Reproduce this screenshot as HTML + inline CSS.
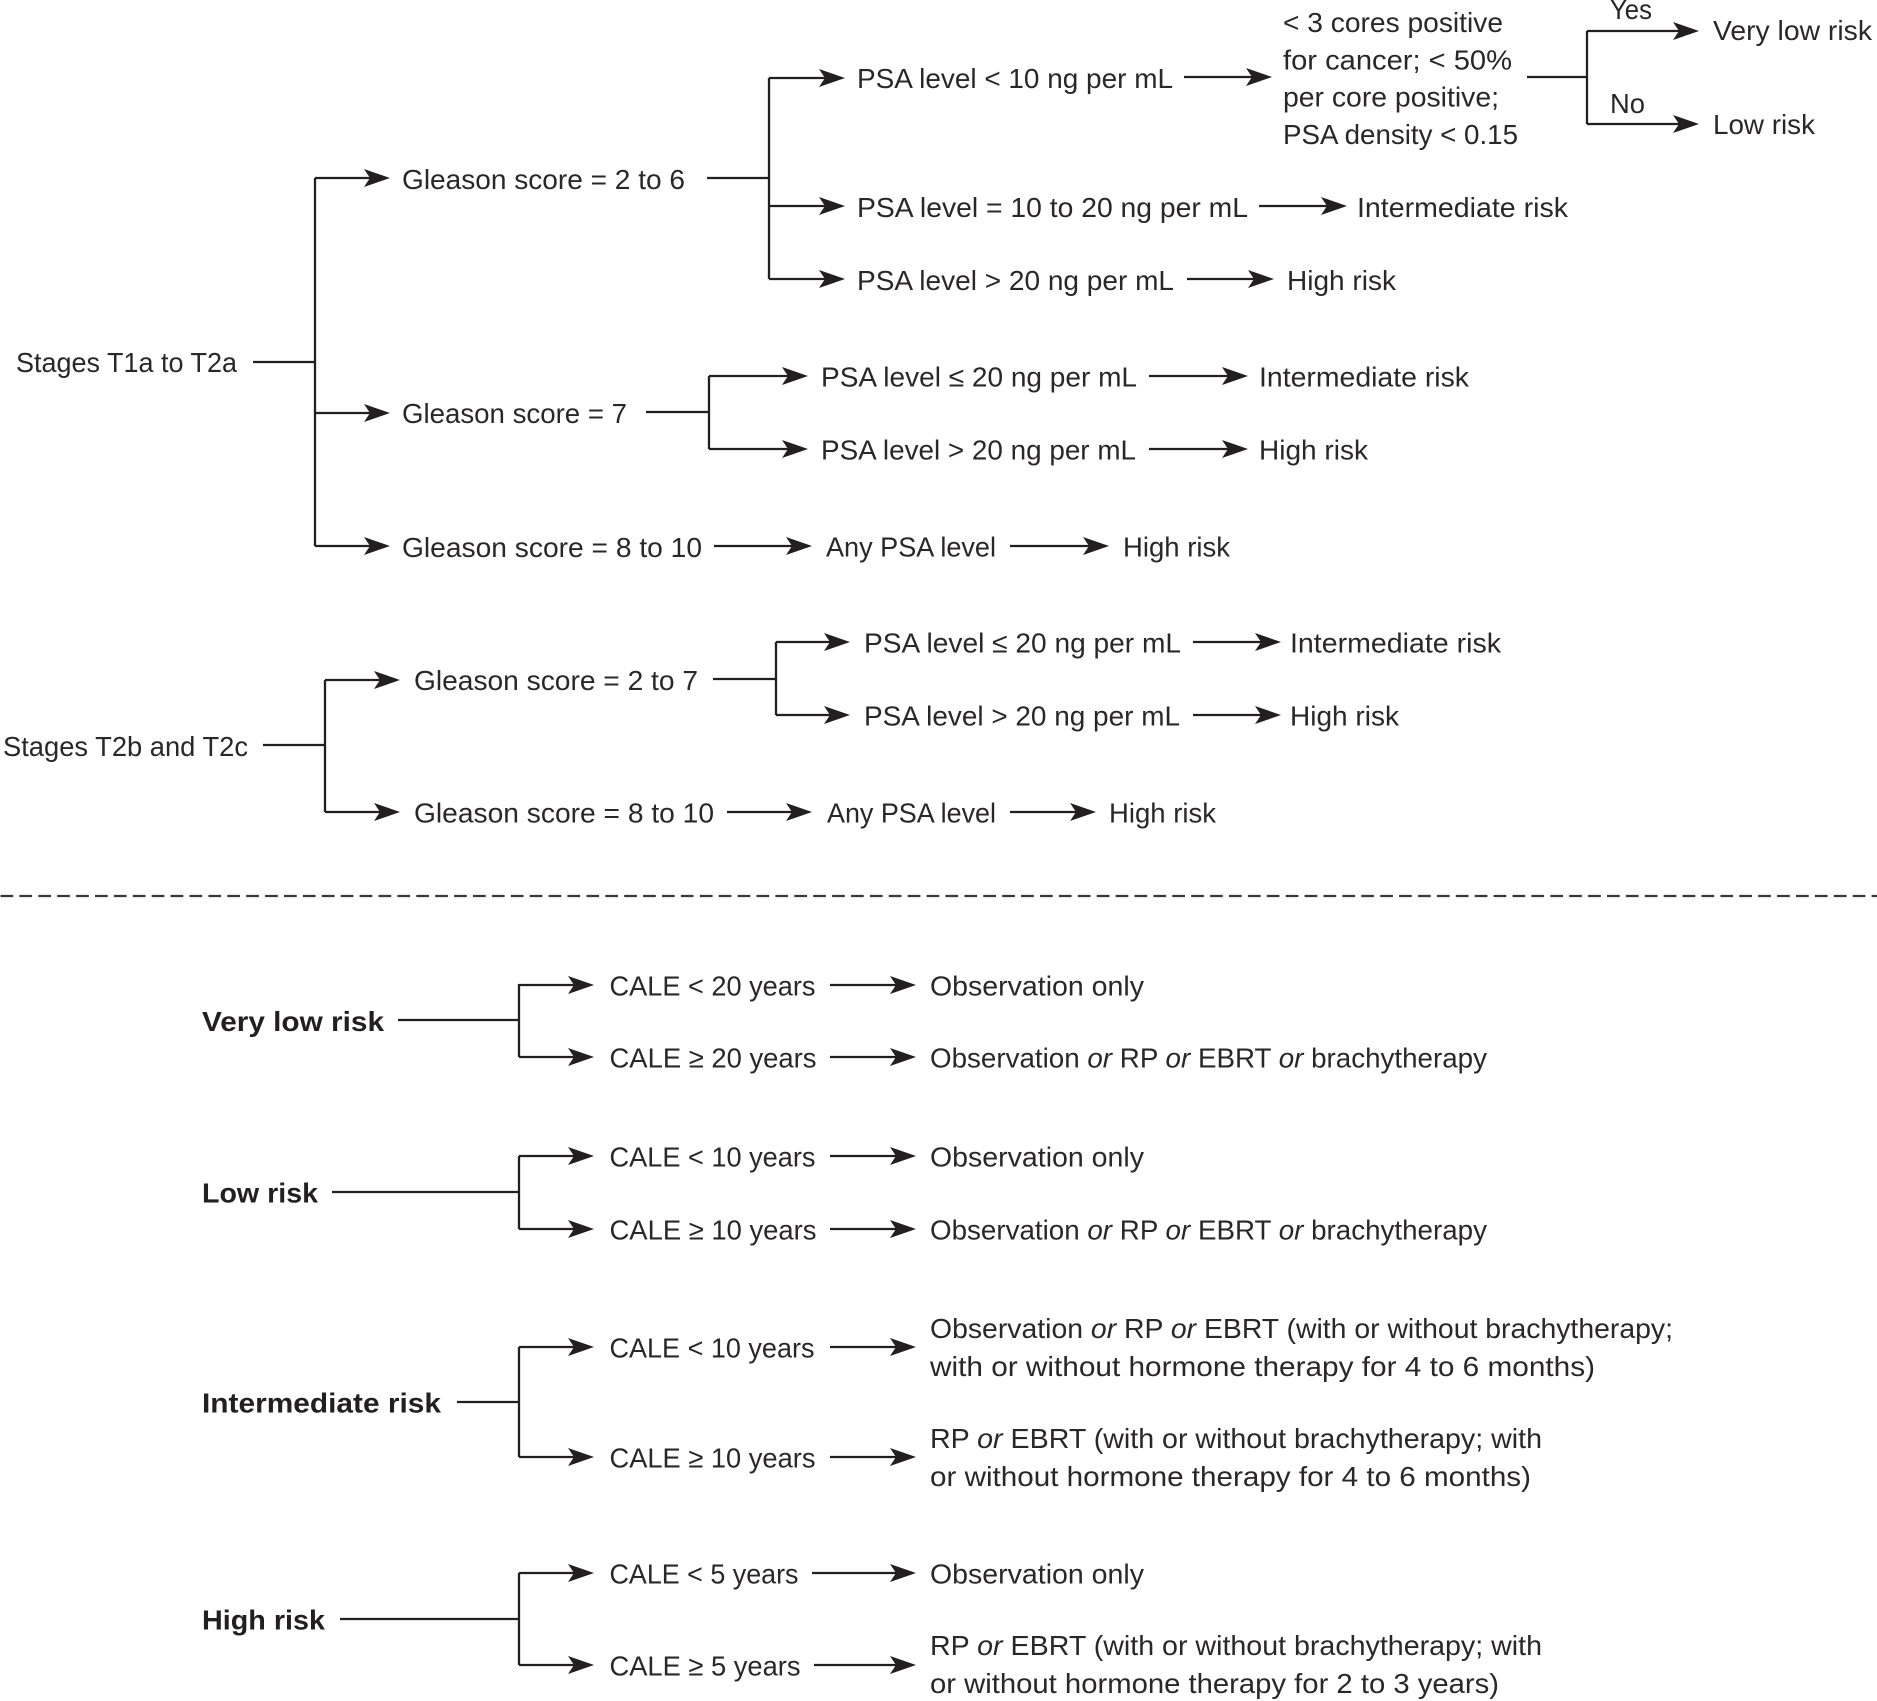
<!DOCTYPE html>
<html><head><meta charset="utf-8"><style>
html,body{margin:0;padding:0;background:#fff;}
svg{display:block;}
text{font-family:"Liberation Sans",Arial,sans-serif;font-size:28px;fill:#2b2728;}
.b{font-weight:bold;fill:#231f20;}
.l{stroke:#231f20;stroke-width:2.3;fill:none;}
.h{fill:#231f20;}
</style></head><body>
<svg width="1877" height="1701" viewBox="0 0 1877 1701" xmlns="http://www.w3.org/2000/svg">
<defs>
<path id="ah" d="M0,0 L-26,-9 L-20,0 L-26,9 Z"/>
</defs>

<!-- ================= TOP: Stages T1a to T2a ================= -->
<g class="l">
<path d="M253 362 H315 M315 178 V546 M315 178 H372 M315 413 H372 M315 546 H372"/>
<path d="M707 178 H769 M769 78 V279 M769 78 H827 M769 206 H827 M769 279 H827"/>
<path d="M1184 77 H1254"/>
<path d="M1527 77 H1587 M1587 31 V124 M1587 31 H1681 M1587 124 H1681"/>
<path d="M1259 206 H1329 M1187 279 H1256"/>
<path d="M646 412 H709 M709 376 V449 M709 376 H790 M709 449 H790"/>
<path d="M1149 376 H1230 M1149 449 H1230"/>
<path d="M714 546 H795 M1010 546 H1091"/>
<!-- T2b -->
<path d="M263 745 H325 M325 680 V812 M325 680 H382 M325 812 H382"/>
<path d="M713 679 H776 M776 642 V715 M776 642 H832 M776 715 H832"/>
<path d="M1193 642 H1263 M1193 715 H1263"/>
<path d="M727 812 H794 M1010 812 H1078"/>
</g>
<g class="h">
<use href="#ah" x="390" y="178"/><use href="#ah" x="390" y="413"/><use href="#ah" x="390" y="546"/>
<use href="#ah" x="845" y="78"/><use href="#ah" x="845" y="206"/><use href="#ah" x="845" y="279"/>
<use href="#ah" x="1272" y="77"/>
<use href="#ah" x="1699" y="31"/><use href="#ah" x="1699" y="124"/>
<use href="#ah" x="1347" y="206"/><use href="#ah" x="1274" y="279"/>
<use href="#ah" x="808" y="376"/><use href="#ah" x="808" y="449"/>
<use href="#ah" x="1248" y="376"/><use href="#ah" x="1248" y="449"/>
<use href="#ah" x="812" y="546"/><use href="#ah" x="1109" y="546"/>
<use href="#ah" x="400" y="680"/><use href="#ah" x="400" y="812"/>
<use href="#ah" x="850" y="642"/><use href="#ah" x="850" y="715"/>
<use href="#ah" x="1281" y="642"/><use href="#ah" x="1281" y="715"/>
<use href="#ah" x="812" y="812"/><use href="#ah" x="1096" y="812"/>
</g>

<text x="16" y="372" textLength="221" lengthAdjust="spacingAndGlyphs">Stages T1a to T2a</text>
<text x="402" y="189" textLength="283" lengthAdjust="spacingAndGlyphs">Gleason score = 2 to 6</text>
<text x="402" y="423" textLength="225" lengthAdjust="spacingAndGlyphs">Gleason score = 7</text>
<text x="402" y="557" textLength="300" lengthAdjust="spacingAndGlyphs">Gleason score = 8 to 10</text>

<text x="857" y="88" textLength="316" lengthAdjust="spacingAndGlyphs">PSA level &lt; 10 ng per mL</text>
<text x="857" y="217" textLength="391" lengthAdjust="spacingAndGlyphs">PSA level = 10 to 20 ng per mL</text>
<text x="857" y="290" textLength="317" lengthAdjust="spacingAndGlyphs">PSA level &gt; 20 ng per mL</text>
<text x="1357" y="217" textLength="211" lengthAdjust="spacingAndGlyphs">Intermediate risk</text>
<text x="1287" y="290" textLength="109" lengthAdjust="spacingAndGlyphs">High risk</text>

<text x="1283" y="32" textLength="220" lengthAdjust="spacingAndGlyphs">&lt; 3 cores positive</text>
<text x="1283" y="69.5" textLength="229" lengthAdjust="spacingAndGlyphs">for cancer; &lt; 50%</text>
<text x="1283" y="106.5" textLength="216" lengthAdjust="spacingAndGlyphs">per core positive;</text>
<text x="1283" y="144" textLength="235" lengthAdjust="spacingAndGlyphs">PSA density &lt; 0.15</text>

<text x="1610" y="19" textLength="42" lengthAdjust="spacingAndGlyphs">Yes</text>
<text x="1610" y="113" textLength="35" lengthAdjust="spacingAndGlyphs">No</text>
<text x="1713" y="40" textLength="159" lengthAdjust="spacingAndGlyphs">Very low risk</text>
<text x="1713" y="134" textLength="102" lengthAdjust="spacingAndGlyphs">Low risk</text>

<text x="821" y="386.5" textLength="316" lengthAdjust="spacingAndGlyphs">PSA level ≤ 20 ng per mL</text>
<text x="821" y="459.5" textLength="315" lengthAdjust="spacingAndGlyphs">PSA level &gt; 20 ng per mL</text>
<text x="1259" y="386.5" textLength="210" lengthAdjust="spacingAndGlyphs">Intermediate risk</text>
<text x="1259" y="459.5" textLength="109" lengthAdjust="spacingAndGlyphs">High risk</text>

<text x="826" y="556.5" textLength="170" lengthAdjust="spacingAndGlyphs">Any PSA level</text>
<text x="1123" y="556.5" textLength="107" lengthAdjust="spacingAndGlyphs">High risk</text>

<!-- T2b text -->
<text x="3" y="756" textLength="245" lengthAdjust="spacingAndGlyphs">Stages T2b and T2c</text>
<text x="414" y="690" textLength="284" lengthAdjust="spacingAndGlyphs">Gleason score = 2 to 7</text>
<text x="414" y="822.5" textLength="300" lengthAdjust="spacingAndGlyphs">Gleason score = 8 to 10</text>
<text x="864" y="652.5" textLength="317" lengthAdjust="spacingAndGlyphs">PSA level ≤ 20 ng per mL</text>
<text x="864" y="725.5" textLength="316" lengthAdjust="spacingAndGlyphs">PSA level &gt; 20 ng per mL</text>
<text x="1290" y="652.5" textLength="211" lengthAdjust="spacingAndGlyphs">Intermediate risk</text>
<text x="1290" y="725.5" textLength="109" lengthAdjust="spacingAndGlyphs">High risk</text>
<text x="827" y="822.5" textLength="169" lengthAdjust="spacingAndGlyphs">Any PSA level</text>
<text x="1109" y="822.5" textLength="107" lengthAdjust="spacingAndGlyphs">High risk</text>

<!-- dashed separator -->
<path d="M0.5 896 H1877" stroke="#3a3738" stroke-width="2.2" stroke-dasharray="12.7 6.2" fill="none"/>

<!-- ================= BOTTOM ================= -->
<g class="l">
<path d="M398 1020 H519 M519 984 V1057 M519 985 H576 M519 1057 H576"/>
<path d="M830 985 H898 M830 1057 H898"/>
<path d="M332 1192 H519 M519 1156 V1229 M519 1156 H576 M519 1229 H576"/>
<path d="M830 1156 H898 M830 1229 H898"/>
<path d="M457 1402 H519 M519 1347 V1457 M519 1347 H576 M519 1457 H576"/>
<path d="M830 1347 H898 M830 1457 H898"/>
<path d="M340 1619 H519 M519 1573 V1665 M519 1573 H576 M519 1665 H576"/>
<path d="M812 1573 H898 M814 1665 H898"/>
</g>
<g class="h">
<use href="#ah" x="594" y="985"/><use href="#ah" x="594" y="1057"/>
<use href="#ah" x="916" y="985"/><use href="#ah" x="916" y="1057"/>
<use href="#ah" x="594" y="1156"/><use href="#ah" x="594" y="1229"/>
<use href="#ah" x="916" y="1156"/><use href="#ah" x="916" y="1229"/>
<use href="#ah" x="594" y="1347"/><use href="#ah" x="594" y="1457"/>
<use href="#ah" x="916" y="1347"/><use href="#ah" x="916" y="1457"/>
<use href="#ah" x="594" y="1573"/><use href="#ah" x="594" y="1665"/>
<use href="#ah" x="916" y="1573"/><use href="#ah" x="916" y="1665"/>
</g>

<text class="b" x="202" y="1031" textLength="182" lengthAdjust="spacingAndGlyphs">Very low risk</text>
<text class="b" x="202" y="1202.5" textLength="116" lengthAdjust="spacingAndGlyphs">Low risk</text>
<text class="b" x="202" y="1412.5" textLength="239" lengthAdjust="spacingAndGlyphs">Intermediate risk</text>
<text class="b" x="202" y="1629.5" textLength="123" lengthAdjust="spacingAndGlyphs">High risk</text>

<text x="609.5" y="995.5" textLength="206" lengthAdjust="spacingAndGlyphs">CALE &lt; 20 years</text>
<text x="609.5" y="1067.5" textLength="207" lengthAdjust="spacingAndGlyphs">CALE ≥ 20 years</text>
<text x="609.5" y="1166.5" textLength="206" lengthAdjust="spacingAndGlyphs">CALE &lt; 10 years</text>
<text x="609.5" y="1239.5" textLength="207" lengthAdjust="spacingAndGlyphs">CALE ≥ 10 years</text>
<text x="609.5" y="1357.5" textLength="205" lengthAdjust="spacingAndGlyphs">CALE &lt; 10 years</text>
<text x="609.5" y="1467.5" textLength="206" lengthAdjust="spacingAndGlyphs">CALE ≥ 10 years</text>
<text x="609.5" y="1583.5" textLength="189" lengthAdjust="spacingAndGlyphs">CALE &lt; 5 years</text>
<text x="609.5" y="1675.5" textLength="191" lengthAdjust="spacingAndGlyphs">CALE ≥ 5 years</text>

<text x="930" y="995.5" textLength="214" lengthAdjust="spacingAndGlyphs">Observation only</text>
<text x="930" y="1067.5" textLength="557" lengthAdjust="spacingAndGlyphs">Observation <tspan font-style="italic">or</tspan> RP <tspan font-style="italic">or</tspan> EBRT <tspan font-style="italic">or</tspan> brachytherapy</text>
<text x="930" y="1166.5" textLength="214" lengthAdjust="spacingAndGlyphs">Observation only</text>
<text x="930" y="1239.5" textLength="557" lengthAdjust="spacingAndGlyphs">Observation <tspan font-style="italic">or</tspan> RP <tspan font-style="italic">or</tspan> EBRT <tspan font-style="italic">or</tspan> brachytherapy</text>

<text x="930" y="1338" textLength="743" lengthAdjust="spacingAndGlyphs">Observation <tspan font-style="italic">or</tspan> RP <tspan font-style="italic">or</tspan> EBRT (with or without brachytherapy;</text>
<text x="930" y="1376" textLength="665" lengthAdjust="spacingAndGlyphs">with or without hormone therapy for 4 to 6 months)</text>
<text x="930" y="1448" textLength="612" lengthAdjust="spacingAndGlyphs">RP <tspan font-style="italic">or</tspan> EBRT (with or without brachytherapy; with</text>
<text x="930" y="1486" textLength="601" lengthAdjust="spacingAndGlyphs">or without hormone therapy for 4 to 6 months)</text>

<text x="930" y="1583.5" textLength="214" lengthAdjust="spacingAndGlyphs">Observation only</text>
<text x="930" y="1655" textLength="612" lengthAdjust="spacingAndGlyphs">RP <tspan font-style="italic">or</tspan> EBRT (with or without brachytherapy; with</text>
<text x="930" y="1693" textLength="569" lengthAdjust="spacingAndGlyphs">or without hormone therapy for 2 to 3 years)</text>
</svg>
</body></html>
